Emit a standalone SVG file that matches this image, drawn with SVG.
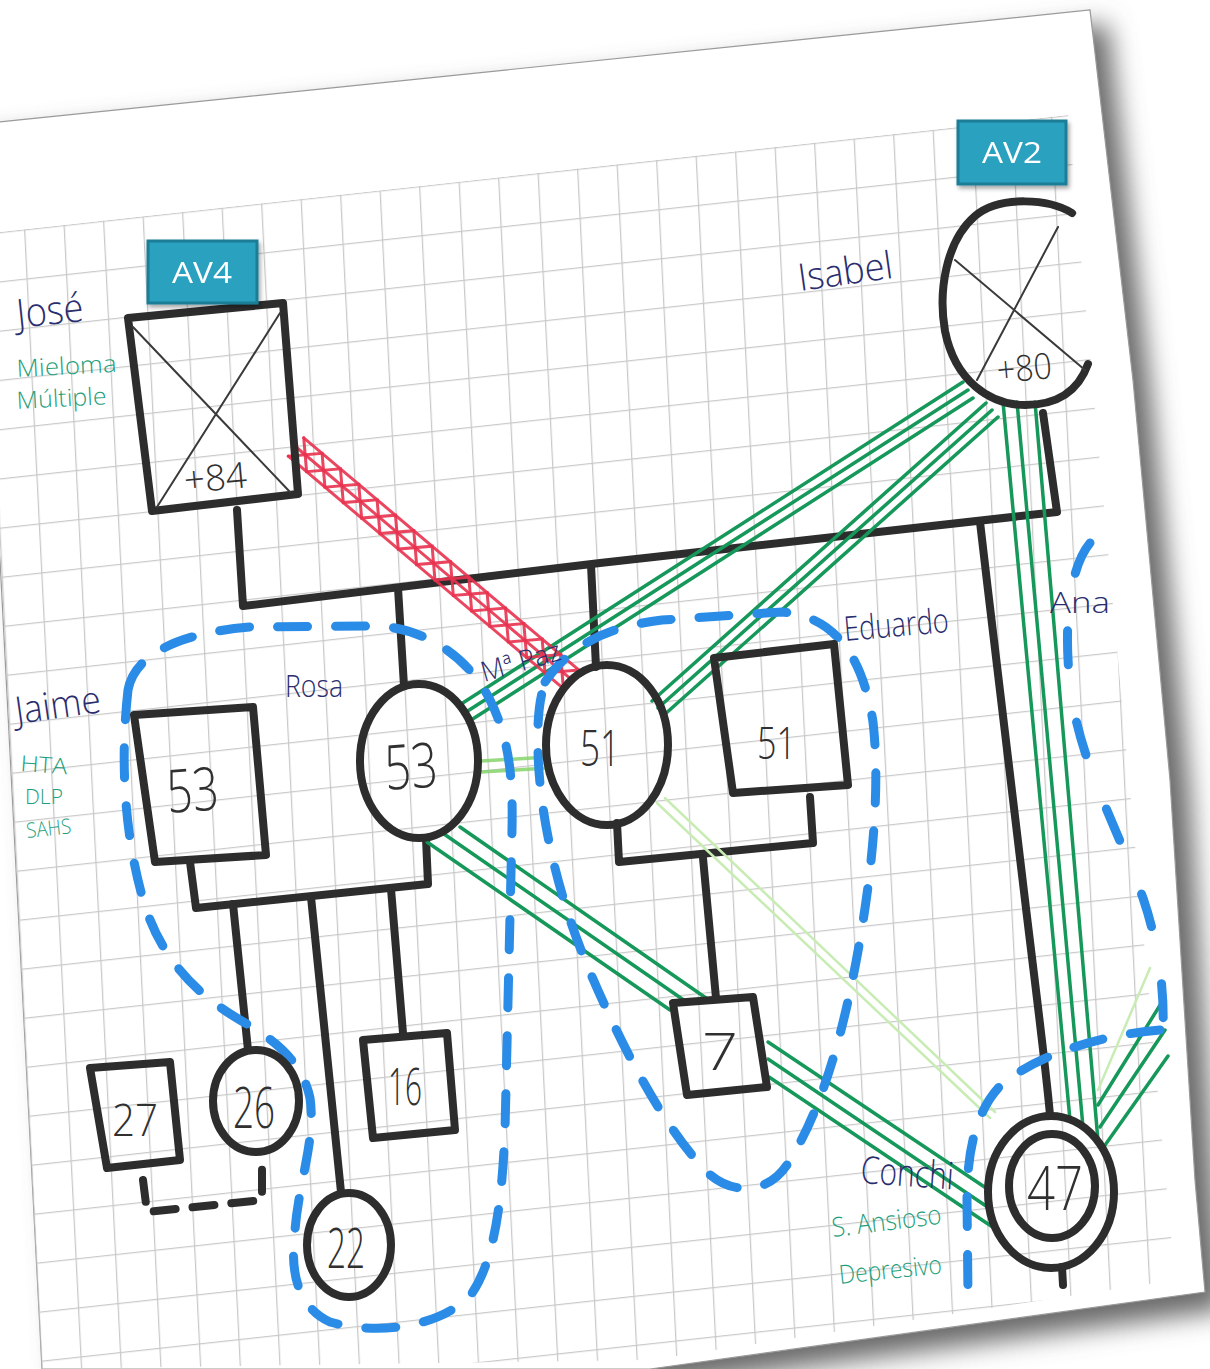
<svg xmlns="http://www.w3.org/2000/svg" width="1210" height="1369" viewBox="0 0 1210 1369">
  <defs>
    <filter id="paperShadow" x="-10%" y="-10%" width="130%" height="130%">
      <feGaussianBlur stdDeviation="13"/>
    </filter>
    <filter id="tagShadow" x="-20%" y="-20%" width="150%" height="170%">
      <feDropShadow dx="2" dy="3" stdDeviation="2" flood-color="#000" flood-opacity="0.35"/>
    </filter>
    <clipPath id="paperClip">
      <path d="M-40,126 L1090,10 L1133,380 L1170,780 L1195,1180 L1205,1292 L650,1369 L42,1369 L0,560 Z"/>
    </clipPath>
    <clipPath id="gridClip">
      <path d="M0,232 L1068,115 L1175,1280 L650,1360 L42,1369 L0,560 Z"/>
    </clipPath>
    <pattern id="grid" patternUnits="userSpaceOnUse" width="39.5" height="49" patternTransform="matrix(1 -0.1095 0.05 1 24 229.4)">
      <path d="M0,0.6 H39.5 M0.6,0 V49" fill="none" stroke="#c9c9c9" stroke-width="1.3"/>
    </pattern>
    <style>
      .ink { fill: none; stroke: #2d2d2d; stroke-width: 8; stroke-linejoin: round; stroke-linecap: round; }
      .hair { fill: none; stroke: #3a3a3a; stroke-width: 2; stroke-linecap: round; }
      .num { font-family: "Open Sans", "Liberation Sans", sans-serif; font-weight: 300; fill: #303030; }
      .name { font-family: "Open Sans", "Liberation Sans", sans-serif; font-weight: 300; fill: #2a2d6e; }
      .note { font-family: "Open Sans", "Liberation Sans", sans-serif; font-weight: 300; fill: #1f9f7c; }
      .green { fill: none; stroke: #16985a; stroke-width: 3.5; stroke-linecap: round; }
      .pale { fill: none; stroke: #86d36c; stroke-width: 3.5; stroke-linecap: round; opacity: 0.85; }
      .faint { fill: none; stroke: #c8ecb4; stroke-width: 2.5; stroke-linecap: round; }
      .red { fill: none; stroke: #e8324f; stroke-width: 3; stroke-linecap: round; opacity: 0.9; }
      .house { fill: none; stroke: #2a8ce6; stroke-width: 9; stroke-dasharray: 30 28; stroke-linecap: round; }
      .sparse { stroke-dasharray: 34 58; }
      .tag rect { fill: #2ba1bf; stroke: #1c7d97; stroke-width: 3; }
      .tag text { font-family: "Open Sans", "Liberation Sans", sans-serif; font-size: 30px; fill: #ffffff; }
    </style>
  </defs>

  <!-- background and sheet of squared paper -->
  <rect width="1210" height="1369" fill="#ffffff"/>
  <path d="M-20,140 L1108,24 L1151,394 L1190,794 L1215,1194 L1225,1310 L670,1385 L62,1385 L20,574 Z" fill="#6a6a6a" filter="url(#paperShadow)"/>
  <path d="M-40,126 L1090,10 L1133,380 L1170,780 L1195,1180 L1205,1292 L650,1369 L42,1369 L0,560 Z" fill="#ffffff" stroke="#9a9a9a" stroke-width="1.2"/>
  <rect width="1210" height="1369" fill="url(#grid)" clip-path="url(#gridClip)"/>

  <g clip-path="url(#paperClip)">
    <g id="connectors">
      <!-- descent lines -->
      <path class="ink" d="M237,510 L243,606 L600,563 L1057,512 L1043,413"/>
      <path class="ink" d="M398,588 L404,686"/>
      <path class="ink" d="M591,565 L596,667"/>
      <path class="ink" d="M980,522 C995,650 1010,780 1025,900 C1037,1000 1045,1060 1050,1115"/>
      <path class="ink" d="M190,862 L196,908 L428,884 L426,838"/>
      <path class="ink" d="M233,904 L248,1050"/>
      <path class="ink" d="M311,897 L341,1192"/>
      <path class="ink" d="M391,889 L403,1033"/>
      <path class="ink" d="M617,823 L619,862 L813,843 L810,797"/>
      <path class="ink" d="M703,858 L716,998"/>
      <path class="ink" d="M143,1180 L147,1212 L262,1200 L262,1160" stroke-dasharray="22 17"/>

      <!-- close bonds -->
      <path class="green" d="M458,706 L963,382 M463,714 L968,390 M468,722 L973,398"/>
      <path class="green" d="M652,701 L986,403 M658,708 L992,410 M664,715 L998,417"/>
      <path class="green" d="M1003,402 L1070,1120 M1017,402 L1083,1127 M1035,402 L1098,1141"/>
      <path class="green" d="M427,842 L670,1010 M444,834 L688,1003 M460,827 L706,998"/>
      <path class="green" d="M768,1042 L989,1190 M768,1059 L989,1208 M769,1077 L991,1226"/>
      <path class="green" d="M1098,1105 L1162,1002 M1100,1127 L1165,1030 M1103,1148 L1168,1056"/>

      <!-- weaker bonds -->
      <path class="pale" d="M481,761 L548,757 M481,772 L548,768"/>
      <path class="faint" d="M657,803 L990,1118 M665,798 L995,1112"/>
      <path class="faint" d="M1150,968 L1098,1090"/>

      <!-- conflict -->
      <g transform="translate(296,447) rotate(40.17)">
        <path class="red" d="M0,-12 H361 M0,0 H361 M0,12 H361"/>
        <path class="red" d="M0,-12 L24,12 L48,-12 L72,12 L96,-12 L120,12 L144,-12 L168,12 L192,-12 L216,12 L240,-12 L264,12 L288,-12 L312,12 L336,-12 L360,12"/>
        <path class="red" d="M0,12 L24,-12 L48,12 L72,-12 L96,12 L120,-12 L144,12 L168,-12 L192,12 L216,-12 L240,12 L264,-12 L288,12 L312,-12 L336,12 L360,-12"/>
      </g>

      <!-- households -->
      <path class="house" d="M128,690 C135,650 190,632 250,627 L380,626 C430,630 470,660 490,700 C510,740 513,780 512,830 L505,1130 C502,1200 495,1262 470,1296 C440,1326 380,1336 330,1322 C296,1306 290,1270 295,1230 C299,1180 316,1140 310,1098 C302,1060 272,1038 240,1020 C192,992 156,952 141,892 C127,840 119,770 128,690 Z"/>
      <path class="house" d="M545,682 C572,642 612,626 662,620 L782,612 C832,616 862,652 873,722 C881,792 871,882 856,962 C841,1042 820,1112 790,1160 C770,1196 730,1196 705,1170 C660,1122 620,1042 590,972 C560,902 540,822 538,752 C537,722 539,700 545,682 Z"/>
      <path class="house sparse" d="M1090,543 C1066,572 1064,640 1071,692 C1080,762 1118,830 1143,898 C1160,948 1166,1000 1162,1045"/>
      <path class="house" d="M1160,1030 C1110,1034 1045,1050 1002,1084 C976,1110 967,1150 967,1200 L968,1296"/>
    </g>

    <g id="node-jose">
      <path class="ink" d="M128,318 L283,303 L298,494 L152,511 Z"/>
      <path class="hair" d="M133,327 L290,492 M280,313 L157,507"/>
      <text class="num" x="185" y="493" font-size="36" textLength="63" lengthAdjust="spacingAndGlyphs" transform="rotate(-5 185 493)">+84</text>
    </g>
    <g id="node-isabel">
      <path class="ink" d="M1072,213 C1050,199 1000,195 975,216 C946,241 938,291 945,331 C955,381 990,405 1025,405 C1056,405 1078,392 1088,364"/>
      <path class="hair" d="M955,260 L1085,370 M1058,227 L977,380"/>
      <text class="num" x="998" y="383" font-size="36" textLength="55" lengthAdjust="spacingAndGlyphs" transform="rotate(-5 998 383)">+80</text>
    </g>
    <g id="node-jaime">
      <path class="ink" d="M134,715 L253,707 L266,855 L155,862 Z"/>
      <text class="num" x="168" y="813" font-size="60" textLength="52" lengthAdjust="spacingAndGlyphs" transform="rotate(-4 168 813)">53</text>
    </g>
    <g id="node-rosa">
      <ellipse class="ink" cx="419" cy="761" rx="59" ry="77"/>
      <text class="num" x="386" y="790" font-size="62" textLength="53" lengthAdjust="spacingAndGlyphs" transform="rotate(-4 386 790)">53</text>
    </g>
    <g id="node-mpaz">
      <ellipse class="ink" cx="607" cy="745" rx="61" ry="80"/>
      <text class="num" x="580" y="766" font-size="49" textLength="40" lengthAdjust="spacingAndGlyphs">51</text>
    </g>
    <g id="node-eduardo">
      <path class="ink" d="M714,658 L834,644 L848,785 L733,793 Z"/>
      <text class="num" x="757" y="759" font-size="45" textLength="39" lengthAdjust="spacingAndGlyphs">51</text>
    </g>
    <g id="node-27">
      <path class="ink" d="M90,1068 L170,1062 L180,1160 L107,1168 Z"/>
      <text class="num" x="112" y="1136" font-size="45" textLength="46" lengthAdjust="spacingAndGlyphs">27</text>
    </g>
    <g id="node-26">
      <ellipse class="ink" cx="256" cy="1101" rx="43" ry="51"/>
      <text class="num" x="233" y="1128" font-size="57" textLength="42" lengthAdjust="spacingAndGlyphs">26</text>
    </g>
    <g id="node-16">
      <path class="ink" d="M363,1040 L447,1033 L455,1130 L373,1138 Z"/>
      <text class="num" x="388" y="1105" font-size="52" textLength="34" lengthAdjust="spacingAndGlyphs">16</text>
    </g>
    <g id="node-22">
      <ellipse class="ink" cx="349" cy="1245" rx="42" ry="52"/>
      <text class="num" x="327" y="1268" font-size="56" textLength="38" lengthAdjust="spacingAndGlyphs">22</text>
    </g>
    <g id="node-7">
      <path class="ink" d="M673,1003 L753,997 L767,1087 L687,1095 Z"/>
      <text class="num" x="702" y="1070" font-size="52" textLength="36" lengthAdjust="spacingAndGlyphs">7</text>
    </g>
    <g id="node-conchi">
      <ellipse class="ink" cx="1051" cy="1192" rx="63" ry="76"/>
      <ellipse class="ink" cx="1052" cy="1186" rx="43" ry="52"/>
      <path class="ink" d="M1062,1267 L1063,1285"/>
      <text class="num" x="1027" y="1210" font-size="60" textLength="56" lengthAdjust="spacingAndGlyphs">47</text>
    </g>

    <g id="labels">
      <text class="name" x="18" y="328" font-size="40" textLength="67" lengthAdjust="spacingAndGlyphs" transform="rotate(-6 18 328)">José</text>
      <text class="note" x="17" y="377" font-size="24" textLength="100" lengthAdjust="spacingAndGlyphs" transform="rotate(-3 17 377)">Mieloma</text>
      <text class="note" x="17" y="409" font-size="24" textLength="90" lengthAdjust="spacingAndGlyphs" transform="rotate(-3 17 409)">Múltiple</text>
      <text class="name" x="800" y="291" font-size="38" textLength="95" lengthAdjust="spacingAndGlyphs" transform="rotate(-8 800 291)">Isabel</text>
      <text class="name" x="17" y="724" font-size="38" textLength="86" lengthAdjust="spacingAndGlyphs" transform="rotate(-8 17 724)">Jaime</text>
      <text class="note" x="20" y="771" font-size="22" textLength="47" lengthAdjust="spacingAndGlyphs" transform="rotate(4 20 771)">HTA</text>
      <text class="note" x="25" y="804" font-size="21" textLength="38" lengthAdjust="spacingAndGlyphs">DLP</text>
      <text class="note" x="27" y="838" font-size="21" textLength="45" lengthAdjust="spacingAndGlyphs" transform="rotate(-6 27 838)">SAHS</text>
      <text class="name" x="285" y="697" font-size="32" textLength="58" lengthAdjust="spacingAndGlyphs">Rosa</text>
      <text class="name" x="484" y="682" font-size="28" textLength="82" lengthAdjust="spacingAndGlyphs" transform="rotate(-16 484 682)">Mª Paz</text>
      <text class="name" x="845" y="641" font-size="34" textLength="105" lengthAdjust="spacingAndGlyphs" transform="rotate(-5 845 641)">Eduardo</text>
      <text class="name" x="1050" y="613" font-size="30" textLength="60" lengthAdjust="spacingAndGlyphs">Ana</text>
      <text class="name" x="860" y="1183" font-size="38" textLength="93" lengthAdjust="spacingAndGlyphs" transform="rotate(4 860 1183)">Conchi</text>
      <text class="note" x="833" y="1237" font-size="27" textLength="110" lengthAdjust="spacingAndGlyphs" transform="rotate(-7 833 1237)">S. Ansioso</text>
      <text class="note" x="840" y="1284" font-size="26" textLength="103" lengthAdjust="spacingAndGlyphs" transform="rotate(-6 840 1284)">Depresivo</text>
    </g>
  </g>

  <g id="tag-av4" class="tag" filter="url(#tagShadow)">
    <rect x="148" y="241" width="109" height="62"/>
    <text x="172" y="283" textLength="60" lengthAdjust="spacingAndGlyphs">AV4</text>
  </g>
  <g id="tag-av2" class="tag" filter="url(#tagShadow)">
    <rect x="958" y="121" width="108" height="63"/>
    <text x="982" y="163" textLength="60" lengthAdjust="spacingAndGlyphs">AV2</text>
  </g>
</svg>
